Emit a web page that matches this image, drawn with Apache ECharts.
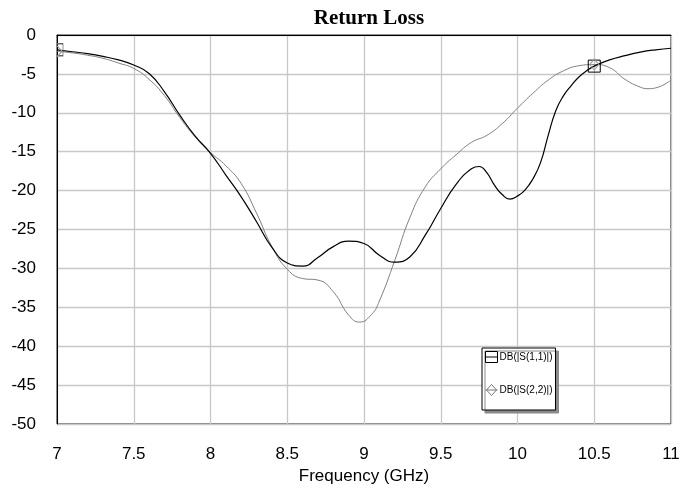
<!DOCTYPE html>
<html>
<head>
<meta charset="utf-8">
<script src="https://cdn.jsdelivr.net/npm/echarts@6/dist/echarts.min.js"></script>
<style>html,body{margin:0;padding:0;background:#fff}#c{width:693px;height:497px}</style>
</head>
<body>
<div id="c"></div>
<script>
var titleText = 'Return Loss';
var xAxisName = 'Frequency (GHz)';
var nameS11 = 'DB(|S(1,1)|)';
var nameS22 = 'DB(|S(2,2)|)';

var freqS11 = [7.0,7.1,7.2,7.3,7.4,7.5,7.6,7.7,7.8,7.9,8.0,8.1,8.2,8.3,8.4,8.5,8.6,8.7,8.8,8.9,9.0,9.1,9.2,9.3,9.4,9.5,9.6,9.7,9.75,9.8,9.85,9.9,9.95,10.0,10.05,10.1,10.15,10.2,10.25,10.3,10.35,10.4,10.45,10.5,10.6,10.7,10.8,10.9,11.0];
var s11 = [-1.9,-2.15,-2.4,-2.75,-3.2,-3.85,-4.95,-7.3,-10.3,-13.0,-15.2,-18.0,-20.8,-24.0,-27.3,-29.3,-29.7,-28.6,-27.2,-26.5,-26.8,-28.3,-29.2,-28.5,-25.7,-22.3,-19.2,-17.2,-16.9,-17.7,-19.3,-20.5,-21.1,-20.7,-19.9,-18.5,-16.4,-12.9,-9.7,-7.8,-6.5,-5.4,-4.6,-4.0,-3.2,-2.65,-2.2,-1.9,-1.7];

var freqS22 = [7.0,7.1,7.2,7.3,7.4,7.5,7.6,7.7,7.8,7.9,8.0,8.1,8.2,8.3,8.4,8.5,8.6,8.7,8.8,8.9,8.97,9.05,9.1,9.2,9.3,9.4,9.5,9.6,9.7,9.8,9.9,10.0,10.1,10.2,10.3,10.4,10.5,10.6,10.7,10.8,10.85,10.9,11.0];
var s22 = [-2.1,-2.3,-2.6,-3.0,-3.6,-4.3,-5.7,-7.8,-10.6,-13.1,-15.1,-16.8,-19.1,-22.9,-27.2,-30.1,-31.3,-31.5,-33.0,-36.0,-36.9,-35.9,-34.2,-29.0,-23.4,-19.5,-17.2,-15.4,-13.8,-12.9,-11.4,-9.4,-7.5,-5.8,-4.6,-3.95,-3.8,-4.2,-5.7,-6.7,-6.9,-6.8,-5.8];

var markerFreqs = [7.0, 10.5];
var markS11 = [-1.9, -4.0];
var markS22 = [-2.1, -3.8];

function pairs(xs, ys) { return xs.map(function (x, i) { return [x, ys[i]]; }); }

// markers at the left edge are clipped by the plot, so only their right half shows
var halfRect = 'path://M0,0H6V12H0';
var halfDiamond = 'path://M0,0L5,5.5L0,11';

var chart = echarts.init(document.getElementById('c'), null, {renderer: 'canvas'});
var sans = 'Liberation Sans, Arial, sans-serif';
chart.setOption({
  animation: false,
  backgroundColor: '#fff',
  title: {
    text: titleText, left: 364, top: 3, textAlign: 'center',
    textStyle: {fontFamily: 'Liberation Serif, Times New Roman, serif', fontWeight: 'bold', fontSize: 21, color: '#000'}
  },
  grid: {left: 57, right: 22, top: 35, bottom: 73, show: true, borderColor: '#000', borderWidth: 1, backgroundColor: '#fff'},
  legend: {
    orient: 'vertical', left: 482, top: 348,
    padding: [3, 3, 14, 3], itemGap: 21, itemWidth: 12, itemHeight: 12,
    backgroundColor: '#fff', borderColor: '#000', borderWidth: 1,
    shadowColor: '#8a8a8a', shadowOffsetX: 3, shadowOffsetY: 3, shadowBlur: 0,
    textStyle: {fontFamily: sans, fontSize: 10, color: '#000', padding: [0, 0, 0, -3]},
    data: [
      {name: nameS11, icon: 'path://M0,0H12V11H0ZM0,5.5H12', itemStyle: {color: '#fff', borderColor: '#000', borderWidth: 1}},
      {name: nameS22, icon: 'path://M6,0L11,5.5L6,11L1,5.5ZM0,5.5H12', itemStyle: {color: '#fff', borderColor: '#777', borderWidth: 1}}
    ]
  },
  xAxis: {
    type: 'value', min: 7, max: 11, interval: 0.5,
    name: xAxisName, nameLocation: 'middle', nameGap: 44,
    nameTextStyle: {fontFamily: sans, fontSize: 17, color: '#000'},
    axisLine: {show: true, lineStyle: {color: '#000', width: 1}},
    axisTick: {show: false},
    axisLabel: {fontFamily: sans, fontSize: 17, color: '#000', margin: 22},
    splitLine: {show: true, lineStyle: {color: '#c8c8c8', width: 1.3}}
  },
  yAxis: {
    type: 'value', min: -50, max: 0, interval: 5,
    axisLine: {show: true, lineStyle: {color: '#000', width: 1}},
    axisTick: {show: false},
    axisLabel: {fontFamily: sans, fontSize: 17, color: '#000', margin: 21},
    splitLine: {show: true, lineStyle: {color: '#c8c8c8', width: 1.3}}
  },
  series: [
    {
      name: nameS11, type: 'line', data: pairs(freqS11, s11), smooth: 0.5, showSymbol: false, symbol: 'none',
      lineStyle: {color: '#000', width: 1.2}, itemStyle: {color: '#000'}, z: 3,
      markPoint: {
        symbol: 'rect', symbolSize: 12, silent: true, label: {show: false},
        itemStyle: {color: 'rgba(0,0,0,0)', borderColor: '#000', borderWidth: 1},
        data: markerFreqs.map(function (f, i) {
          return i === 0 ? {coord: [f, markS11[i]], symbol: halfRect, symbolSize: [6, 12], symbolOffset: [3, 0], itemStyle: {borderColor: '#666'}}
                         : {coord: [f, markS11[i]]};
        })
      }
    },
    {
      name: nameS22, type: 'line', data: pairs(freqS22, s22), smooth: 0.5, showSymbol: false, symbol: 'none',
      lineStyle: {color: '#808080', width: 1}, itemStyle: {color: '#808080'}, z: 2,
      markPoint: {
        symbol: 'diamond', symbolSize: [9, 11], silent: true, label: {show: false},
        itemStyle: {color: 'rgba(0,0,0,0)', borderColor: '#999', borderWidth: 1},
        data: markerFreqs.map(function (f, i) {
          return i === 0 ? {coord: [f, markS22[i]], symbol: halfDiamond, symbolSize: [5, 11], symbolOffset: [2.5, 0]}
                         : {coord: [f, markS22[i]]};
        })
      }
    }
  ]
});
</script>
</body>
</html>
